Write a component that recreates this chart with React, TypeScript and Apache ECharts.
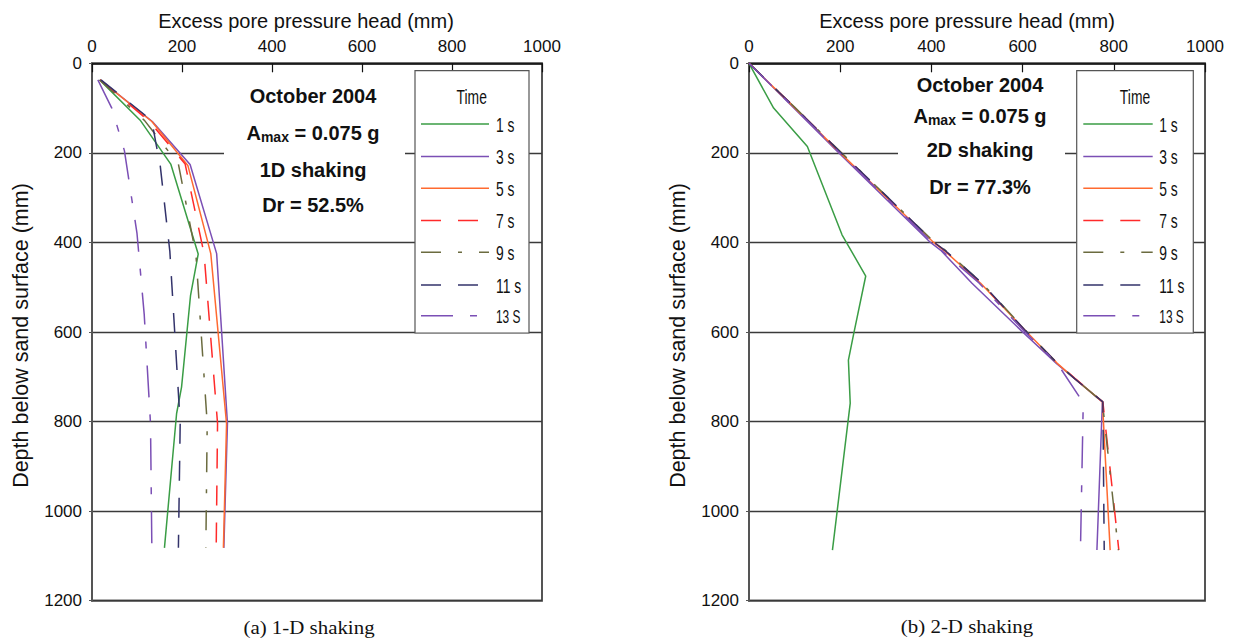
import React, { useEffect, useRef } from "react";
import * as echarts from "echarts";

// ---------- data ----------
const timeLabels = ["1 s", "3 s", "5 s", "7 s", "9 s", "11 s", "13 S"];
const xTicks = [0, 200, 400, 600, 800, 1000];

// (a) 1-D shaking : [excess pore pressure head (mm), depth (mm)]
const oneD_1s = [[17, 37], [107, 127], [175, 225], [236, 426], [219, 518], [199, 723], [188, 782], [161, 1082]];
const oneD_3s = [[18, 37], [134, 130], [218, 226], [277, 425], [301, 804], [293, 1082]];
const oneD_5s = [[18, 37], [133, 130], [213, 228], [264, 425], [299, 805], [292, 1082]];
const oneD_7s = [[18, 37], [128, 130], [207, 225], [249, 425], [279, 804], [276, 1082]];
const oneD_9s = [[17, 37], [117, 128], [192, 225], [231, 428], [256, 804], [253, 1082]];
const oneD_11s = [[20, 37], [133, 128], [143, 184], [151, 223], [173, 420], [196, 804], [192, 1082]];
const oneD_13s = [[13, 37], [44, 100], [72, 195], [100, 380], [116, 560], [130, 804], [133, 1082]];

// (b) 2-D shaking
const twoD_1s = [[0, 0], [54, 100], [128, 186], [204, 383], [256, 475], [229, 607], [218, 663], [222, 759], [183, 1087]];
const twoD_3s = [[0, 0], [195, 198], [398, 400], [420, 417], [489, 491], [600, 600], [674, 670], [713, 703], [775, 756], [763, 1087]];
const twoD_5s = [[0, 0], [100, 99], [200, 200], [300, 298], [405, 400], [427, 417], [508, 491], [609, 600], [676, 670], [713, 703], [775, 756], [792, 1087]];
const twoD_7s = [[0, 0], [100, 98], [202, 200], [302, 298], [406, 400], [428, 417], [510, 491], [608, 600], [677, 670], [714, 703], [776, 756], [811, 1087]];
const twoD_9s = [[0, 0], [101, 99], [203, 200], [303, 298], [407, 400], [430, 417], [511, 491], [610, 600], [676, 670], [713, 703], [775, 756], [810, 1087]];
const twoD_11s = [[0, 0], [100, 98], [201, 199], [302, 297], [406, 400], [429, 417], [510, 490], [609, 600], [677, 671], [714, 704], [776, 756], [779, 1087]];
const twoD_13s = [[0, 0], [198, 199], [402, 400], [505, 491], [605, 600], [676, 670], [733, 758], [727, 1080]];

const oneDSeries = [oneD_1s, oneD_3s, oneD_5s, oneD_7s, oneD_9s, oneD_11s, oneD_13s];
const twoDSeries = [twoD_1s, twoD_3s, twoD_5s, twoD_7s, twoD_9s, twoD_11s, twoD_13s];

// ---------- styles ----------
const colors = ["#3a9d45", "#7b4fb5", "#ff6a30", "#ff2a2a", "#6b6b3f", "#33336b", "#7b4fb5"];
const dashes: any[] = ["solid", "solid", "solid", [20, 17], [20, 17, 4, 17], [20, 17], [32, 17, 7, 17]];
const SANS = "'Liberation Sans', Arial, Helvetica, sans-serif";
const SERIF = "'Liberation Serif', 'Times New Roman', serif";

function txt(x: number, y: number, text: string, o: any = {}) {
  const { rotation, scaleX, ...style } = o;
  const el: any = {
    type: "text",
    x,
    y,
    z: 20,
    silent: true,
    style: {
      text,
      fill: "#111",
      fontFamily: SANS,
      fontSize: 20,
      align: "center",
      textAlign: "center",
      verticalAlign: "middle",
      textVerticalAlign: "middle",
      ...style,
    },
  };
  if (rotation !== undefined) el.rotation = rotation;
  if (scaleX !== undefined) el.scaleX = scaleX;
  return el;
}

function legendGraphics(boxX: number, boxW: number, lineX1: number, lineX2: number, labelX: number, titleX: number) {
  const ys = [124, 156.5, 188.3, 220.5, 252.3, 285, 315.8];
  const els: any[] = [
    {
      type: "rect",
      z: 15,
      silent: true,
      shape: { x: boxX, y: 70.7, width: boxW, height: 262.3 },
      style: { fill: "#fff", stroke: "#555", lineWidth: 1.2 },
    },
    txt(titleX, 97, "Time", { fontSize: 21, scaleX: 0.66 }),
  ];
  timeLabels.forEach((lab, i) => {
    const d = dashes[i];
    els.push({
      type: "line",
      z: 20,
      silent: true,
      shape: { x1: lineX1, y1: ys[i], x2: lineX2, y2: ys[i] },
      style: { stroke: colors[i], lineWidth: 1.6, lineDash: d === "solid" ? null : d },
    });
    els.push(
      txt(labelX, ys[i] + 0.5, lab, {
        fontSize: i === 6 ? 18 : 21,
        align: "left",
        textAlign: "left",
        scaleX: 0.66,
      })
    );
  });
  return els;
}

function annotation(cx: number, ys: number[], shakeText: string, drText: string) {
  const bold = { fontWeight: "bold", fontSize: 20 };
  return [
    txt(cx, ys[0], "October 2004", bold),
    {
      type: "text",
      x: cx,
      y: ys[1],
      z: 20,
      silent: true,
      style: {
        text: "{a|A}{s|max}{a| = 0.075 g}",
        align: "center",
        textAlign: "center",
        verticalAlign: "middle",
        textVerticalAlign: "middle",
        fill: "#111",
        rich: {
          a: { fontSize: 20, fontWeight: "bold", fontFamily: SANS, fill: "#111", lineHeight: 22 },
          s: { fontSize: 14, fontWeight: "bold", fontFamily: SANS, fill: "#111", lineHeight: 10, verticalAlign: "bottom" },
        },
      },
    },
    txt(cx, ys[2], shakeText, bold),
    txt(cx, ys[3], drText, bold),
  ];
}

const plain = (v: number) => String(v);

function axesFor(gridIndex: number) {
  const x = {
    gridIndex,
    type: "value",
    position: "top",
    min: xTicks[0],
    max: xTicks[xTicks.length - 1],
    interval: 200,
    axisLine: { show: true, onZero: false, lineStyle: { color: "#111", width: 1.5 } },
    axisTick: { show: true, inside: true, length: 9, lineStyle: { color: "#111", width: 1.2 } },
    axisLabel: { color: "#111", fontSize: 17, fontFamily: SANS, margin: 8, formatter: plain },
    splitLine: { show: false },
  };
  const y = {
    gridIndex,
    type: "value",
    inverse: true,
    min: 0,
    max: 1200,
    interval: 200,
    axisLine: { show: true, onZero: false, lineStyle: { color: "#555", width: 2 } },
    axisTick: { show: true, length: 3, lineStyle: { color: "#555", width: 1 } },
    axisLabel: { color: "#111", fontSize: 17, fontFamily: SANS, margin: 10, formatter: plain },
    splitLine: { show: true, lineStyle: { color: "#3a3a3a", width: 1.3 } },
  };
  return { x, y };
}

export default function App() {
  const ref = useRef<HTMLDivElement>(null);

  useEffect(() => {
    if (!ref.current) return;
    const chart = echarts.init(ref.current, null as any, { renderer: "svg" });

    const a0 = axesFor(0);
    const a1 = axesFor(1);

    const series: any[] = [];
    [oneDSeries, twoDSeries].forEach((group, gi) => {
      group.forEach((data, i) => {
        series.push({
          type: "line",
          name: timeLabels[i],
          xAxisIndex: gi,
          yAxisIndex: gi,
          data,
          symbol: "none",
          silent: true,
          clip: false,
          z: 3,
          lineStyle: { color: colors[i], width: 1.5, type: dashes[i] },
        });
      });
    });

    const graphic: any[] = [
      // white backing behind annotation text (hides part of the 200 grid line)
      { type: "rect", z: 12, silent: true, shape: { x: 224, y: 145, width: 181, height: 16 }, style: { fill: "#fff" } },
      { type: "rect", z: 12, silent: true, shape: { x: 898, y: 145, width: 167, height: 16 }, style: { fill: "#fff" } },
      ...annotation(313, [95.5, 132.5, 169.5, 204.5], "1D shaking", "Dr = 52.5%"),
      ...annotation(980, [85, 115.5, 149.5, 186.5], "2D shaking", "Dr = 77.3%"),
      ...legendGraphics(415, 114, 421, 489, 496, 471.7),
      ...legendGraphics(1076.7, 116.6, 1083.3, 1152.7, 1159.3, 1135),
      // axis titles
      txt(306, 20.5, "Excess pore pressure head (mm)", { fontSize: 20 }),
      txt(967, 20.5, "Excess pore pressure head (mm)", { fontSize: 20 }),
      txt(20.5, 335.5, "Depth below sand surface (mm)", { fontSize: 21.5, rotation: Math.PI / 2 }),
      txt(677.5, 335.5, "Depth below sand surface (mm)", { fontSize: 21.5, rotation: Math.PI / 2 }),
      // captions
      txt(309, 627, "(a) 1-D shaking", { fontSize: 19, fontFamily: SERIF, scaleX: 1.1 }),
      txt(967, 626.5, "(b) 2-D shaking", { fontSize: 19, fontFamily: SERIF, scaleX: 1.1 }),
    ];

    chart.setOption({
      animation: false,
      backgroundColor: "#fff",
      grid: [
        { left: 92, top: 63.3, width: 450, height: 537.4, show: true, borderColor: "#555", borderWidth: 2, containLabel: false },
        { left: 749, top: 63.3, width: 456, height: 537.4, show: true, borderColor: "#555", borderWidth: 2, containLabel: false },
      ],
      xAxis: [a0.x, a1.x],
      yAxis: [a0.y, a1.y],
      series,
      graphic,
    });

    return () => chart.dispose();
  }, []);

  return (
    <div
      ref={ref}
      style={{ position: "absolute", left: 0, top: 0, width: 1234, height: 640, background: "#fff" }}
    />
  );
}
